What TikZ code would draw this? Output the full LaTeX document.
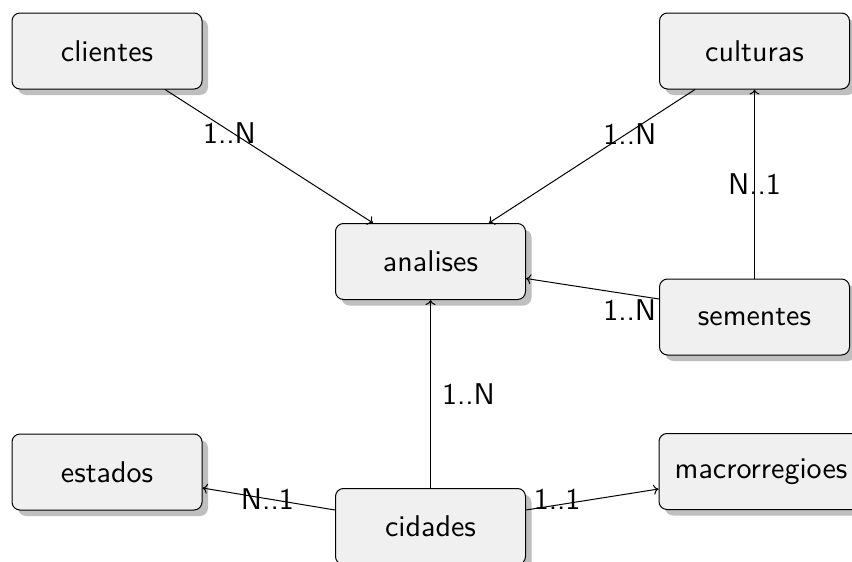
\documentclass[tikz,border=0pt]{standalone}
\usepackage{fontspec}
\newfontfamily\lmsansten{lmsans10-regular.otf}
\usetikzlibrary{shadows,arrows.meta}
\begin{document}
\begin{tikzpicture}[x=1pt,y=-1pt,
  entity/.style={draw=black, line width=1pt, fill=black!6, rounded corners=8pt,
    minimum width=190pt, minimum height=76pt, inner xsep=12.5pt, inner ysep=0pt,
    font=\lmsansten\fontsize{30}{36}\selectfont,
    drop shadow={shadow xshift=6pt, shadow yshift=-6pt, fill=black!25, opacity=1}},
  rel/.style={line width=1pt, -{Computer Modern Rightarrow[length=5pt,width=10pt]}},
  card/.style={font=\lmsansten\fontsize{30}{36}\selectfont, inner sep=0pt}]
\useasboundingbox (0,0) rectangle (852,562);

\node[entity] (clientes) at (107,51) {clientes};
\node[entity] (culturas) at (754.5,51) {culturas};
\node[entity] (analises) at (430.5,261.5) {analises};
\node[entity] (sementes) at (754.5,317) {sementes};
\node[entity] (estados) at (107,472) {estados};
\node[entity] (cidades) at (430.5,526.5) {cidades};
\node[entity, minimum width=204pt] (macro) at (761,471.5) {macrorregioes};

\draw[rel] ([xshift=58pt]clientes.south) -- ([xshift=-57.5pt]analises.north)
  node[card, pos=0.31, yshift=-2.6pt] (l1) {1..N};
\draw[rel] ([xshift=-59.5pt]culturas.south) -- ([xshift=58.5pt]analises.north)
  node[card, pos=0.316, yshift=-2pt] (l2) {1..N};
\draw[rel] (sementes.north) -- (culturas.south)
  node[card, pos=0.5] (l3) {N..1};
\draw[rel] ([yshift=18pt]sementes.west) -- ([yshift=-17pt]analises.east)
  node[card, pos=0.22, yshift=-16pt] (l4) {1..N};
\draw[rel] (cidades.north) -- (analises.south)
  node[card, pos=0.5, xshift=38pt] (l5) {1..N};
\draw[rel] ([yshift=16.5pt]cidades.west) -- ([yshift=-16pt]estados.east)
  node[card, pos=0.51] (l6) {N..1};
\draw[rel] ([yshift=16.5pt]cidades.east) -- ([yshift=-17.5pt]macro.west)
  node[card, pos=0.235, yshift=5.5pt] (l7) {1..1};
\end{tikzpicture}
\end{document}
